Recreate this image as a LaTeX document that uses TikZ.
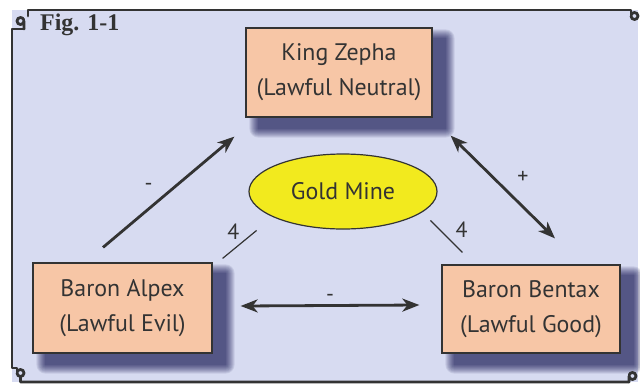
\documentclass[tikz,border=0pt]{standalone}
\usepackage{fontspec}
\setmainfont{Liberation Serif}
\newfontfamily\boxfont{PT Sans}
\usetikzlibrary{arrows.meta,shapes.geometric,backgrounds}

\definecolor{panel}{HTML}{D7DBF1}
\definecolor{salmon}{HTML}{F7C6A6}
\definecolor{gold}{HTML}{F2EA1E}
\definecolor{ink}{HTML}{333333}

\tikzset{
  pointy/.tip={Stealth[length=17bp, width=13bp, inset=5bp]},
  frame/.style={draw=ink, line width=2.8bp, line cap=round, line join=round},
}

% soft dark shadow down and to the right of a node
\newcommand{\castshadow}[1]{%
  \foreach \k in {0,...,9}{
    \fill[black!75!blue, opacity=0.085, rounded corners=\k bp]
      ([shift={(13-\k,11-\k)}]#1.north west) rectangle ([shift={(13+\k,11+\k)}]#1.south east);
  }}

\begin{document}
\begin{tikzpicture}[x=1bp, y=-1bp,
    lord/.style={draw=ink, line width=1.2bp, fill=salmon, text=ink,
      align=center, font=\boxfont\fontsize{24}{35}\selectfont},
    mine/.style={ellipse, draw=ink, line width=1.2bp, fill=gold, text=ink,
      font=\boxfont\fontsize{24}{24}\selectfont,
      minimum width=188bp, minimum height=75bp, inner sep=0pt},
    link/.style={draw=ink, line width=2.8bp, -pointy},
    both/.style={draw=ink, line width=2.8bp, pointy-pointy},
    tick/.style={draw=ink, line width=1.2bp},
    tag/.style={text=ink, font=\boxfont\fontsize{22}{22}\selectfont, inner sep=1bp}]
        \useasboundingbox (0, 0) rectangle (640, 383);
        \begin{scope}[on background layer]
          \fill[white] (0, 0) rectangle (640, 383);
          \fill[panel] (12, 10) rectangle (638, 382);
        \end{scope}

        % frame with curled corners
        \draw[frame] (28, 16) -- (28, 10) -- (631, 10) -- (631, 16);
        \draw[frame] (631, 16) arc (180:-160:3.5);
        \draw[frame] (24, 29) -- (24, 21) arc (0:340:3.5);
        \draw[frame] (24, 29) -- (12, 29) -- (12, 368) -- (17, 368) -- (17, 373);
        \draw[frame] (17, 373) arc (180:-160:3.5) (20.5, 377) -- (20.5, 382) -- (629, 382);
        \draw[frame] (629, 382) -- (629, 376) arc (180:-160:3.5);

        \node[font=\bfseries\fontsize{24}{24}\selectfont, text=ink, anchor=base west, inner sep=0pt] (fig) at (40, 30) {Fig. 1-1};

        \node[lord, minimum width=186bp, minimum height=89bp] (king) at (339, 72.5) {King Zepha\\(Lawful Neutral)};
        \node[lord, minimum width=179bp, minimum height=90bp] (alpex) at (122.5, 308) {Baron Alpex\\(Lawful Evil)};
        \node[lord, minimum width=178bp, minimum height=88bp] (bentax) at (531, 309) {Baron Bentax\\(Lawful Good)};
        \node[mine] (gold) at (343, 191.5) {Gold Mine};

        \begin{scope}[on background layer]
          \castshadow{king}
          \castshadow{alpex}
          \castshadow{bentax}
        \end{scope}

        \draw[link] ([shift={(-19.5,-15)}]alpex.north) -- ([shift={(-11,19)}]king.south west)
                node[pos=0.43, shift={(-11,-13)}, tag] {-};
        \draw[both] ([shift={(18,18)}]king.south east) -- ([shift={(24,-26)}]bentax.north)
                node[pos=0.55, shift={(15,-15)}, tag] {+};
        \draw[both] ([shift={(28,-2)}]alpex.east) -- ([shift={(-22,-4)}]bentax.west)
                node[midway, above=2bp, tag] {-};
        \draw[tick] ([shift={(10,-4)}]alpex.north east) -- ([shift={(-19.5,12)}]gold.south west)
                node[pos=0.95, left=14bp, tag] {4};
        \draw[tick] ([shift={(20.5,2)}]gold.south east) -- ([shift={(21,-12)}]bentax.north west)
                node[pos=0.3, right=14bp, tag] {4};
\end{tikzpicture}
\end{document}
